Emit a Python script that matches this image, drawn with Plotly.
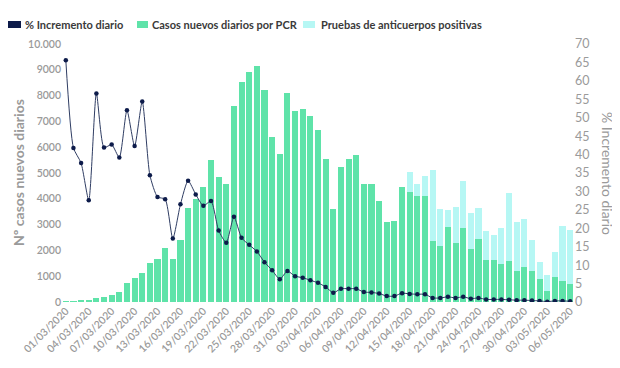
import datetime as dt
import plotly.graph_objects as go

start = dt.date(2020, 3, 1)
dates = [(start + dt.timedelta(days=i)).strftime("%d/%m/%Y") for i in range(67)]

casos_pcr = [30, 30, 40, 40, 170, 195, 285, 390, 750, 945, 1125, 1500, 1670, 2110, 1670, 2420,
             3660, 4010, 4450, 5485, 4840, 4580, 7605, 8525, 8915, 9135, 8230, 6380, 5755, 8110,
             7400, 7500, 7205, 6660, 5525, 3620, 5240, 5535, 5690, 4565, 4565, 3920, 3120, 3155,
             4465, 4270, 4125, 4100, 2365, 2175, 2910, 2290, 2870, 2070, 2460, 1620, 1620, 1490,
             1580, 1205, 1360, 1205, 895, 415, 970, 815, 710]

total_con_anticuerpos = [None] * 45 + [5020, 4565, 4875, 5110, 3600, 3585, 3690, 4685, 3465, 3650,
                                       2755, 2600, 2885, 4230, 3090, 3210, 2420, 1550, 1060, 1940,
                                       2940, 2780]
anticuerpos = [None if t is None else t - c for t, c in zip(total_con_anticuerpos, casos_pcr)]

incremento = [65.6, 41.8, 37.7, 27.6, 56.6, 41.9, 42.7, 39.2, 52.0, 42.3, 54.4, 34.4, 28.5, 27.9,
              17.2, 26.5, 32.9, 29.2, 26.1, 27.4, 19.4, 16.1, 23.1, 17.4, 15.5, 13.7, 10.8, 8.6,
              6.2, 8.4, 7.0, 6.6, 5.9, 5.2, 4.1, 2.5, 3.6, 3.6, 3.6, 2.7, 2.6, 2.3, 1.6, 1.6, 2.4,
              2.2, 2.1, 2.1, 1.1, 1.1, 1.4, 1.1, 1.4, 0.9, 1.1, 0.7, 0.7, 0.7, 0.6, 0.5, 0.5, 0.4,
              0.3, 0.1, 0.3, 0.3, 0.2]

left_ticks = [0, 1000, 2000, 3000, 4000, 5000, 6000, 7000, 8000, 9000, 10000]
left_ticktext = ["0", "1000", "2000", "3000", "4000", "5000", "6000", "7000", "8000", "9000", "10.000"]
right_ticks = list(range(0, 75, 5))
x_ticks = dates[::3]

legend_names = ["% Incremento diario", "Casos nuevos diarios por PCR", "Pruebas de anticuerpos positivas"]

GREEN = "#5fe3a9"
LIGHT = "#b6f7f4"
NAVY = "#0d1b4a"
GRAY = "#9a9a9a"
FONT = "Lato"

# figure geometry (page body has an 8px margin)
W, H = 612, 360
ML, MR, MT, MB = 54, 46, 36, 66
PW, PH = W - ML - MR, H - MT - MB


def px(fx):
    return (fx - ML) / PW


def py(fy):
    return (H - MB - fy) / PH


fig = go.Figure()
fig.add_trace(go.Bar(x=dates, y=casos_pcr, name=legend_names[1],
                     marker=dict(color=GREEN, line=dict(width=0))))
fig.add_trace(go.Bar(x=dates, y=anticuerpos, name=legend_names[2],
                     marker=dict(color=LIGHT, line=dict(width=0))))
fig.add_trace(go.Scatter(x=dates, y=incremento, yaxis="y2", mode="lines+markers",
                         name=legend_names[0],
                         line=dict(color="#2f3d63", width=1, shape="spline", smoothing=0.6),
                         marker=dict(color=NAVY, size=4.5)))

# manual legend (swatch right next to text, as in the original)
legend_items = [(0, 13, 15, NAVY), (129, 140, 142, GREEN), (295, 307, 311, LIGHT)]
shapes, annotations = [], []
for (x0, x1, tx, col), name in zip(legend_items, legend_names):
    shapes.append(dict(type="rect", xref="paper", yref="paper", x0=px(x0), x1=px(x1),
                       y0=py(20), y1=py(13), fillcolor=col, line=dict(width=0)))
    annotations.append(dict(text=name, xref="paper", yref="paper", x=px(tx), y=py(16.7),
                            xanchor="left", yanchor="middle", showarrow=False,
                            font=dict(size=11, color="#3a3a3a", family=FONT, weight=700)))

annotations += [
    dict(text="Nº casos nuevos diarios", xref="paper", yref="paper", x=px(10), y=0.5,
         textangle=-90, showarrow=False, xanchor="center", yanchor="middle",
         font=dict(size=14, color=GRAY, family=FONT, weight=700)),
    dict(text="% Incremento diario", xref="paper", yref="paper", x=px(600), y=0.5,
         textangle=90, showarrow=False, xanchor="center", yanchor="middle",
         font=dict(size=14, color=GRAY, family=FONT, weight=400)),
]

fig.update_layout(
    width=W, height=H,
    margin=dict(l=ML, r=MR, t=MT, b=MB),
    paper_bgcolor="white", plot_bgcolor="white",
    barmode="stack", bargap=0.2,
    font=dict(family=FONT, color=GRAY),
    showlegend=False,
    hovermode=False,
    xaxis=dict(type="category", range=[-0.5, len(dates) - 0.5], tickmode="array",
               tickvals=x_ticks, ticktext=x_ticks, tickangle=-45,
               tickfont=dict(size=10.5, color=GRAY, weight=600),
               showgrid=False, showline=False, zeroline=False, ticks="", automargin=False),
    yaxis=dict(range=[0, 10000], tickmode="array", tickvals=left_ticks, ticktext=left_ticktext,
               tickfont=dict(size=10.5, color=GRAY, weight=600), showgrid=False,
               zeroline=False, showline=False, ticks="", automargin=False),
    yaxis2=dict(range=[0, 70], overlaying="y", side="right", tickmode="array",
                tickvals=right_ticks, tickfont=dict(size=12.5, color=GRAY),
                showgrid=False, zeroline=False, showline=False, ticks="", automargin=False),
    shapes=shapes,
    annotations=annotations,
)

fig.write_html("out.html")
